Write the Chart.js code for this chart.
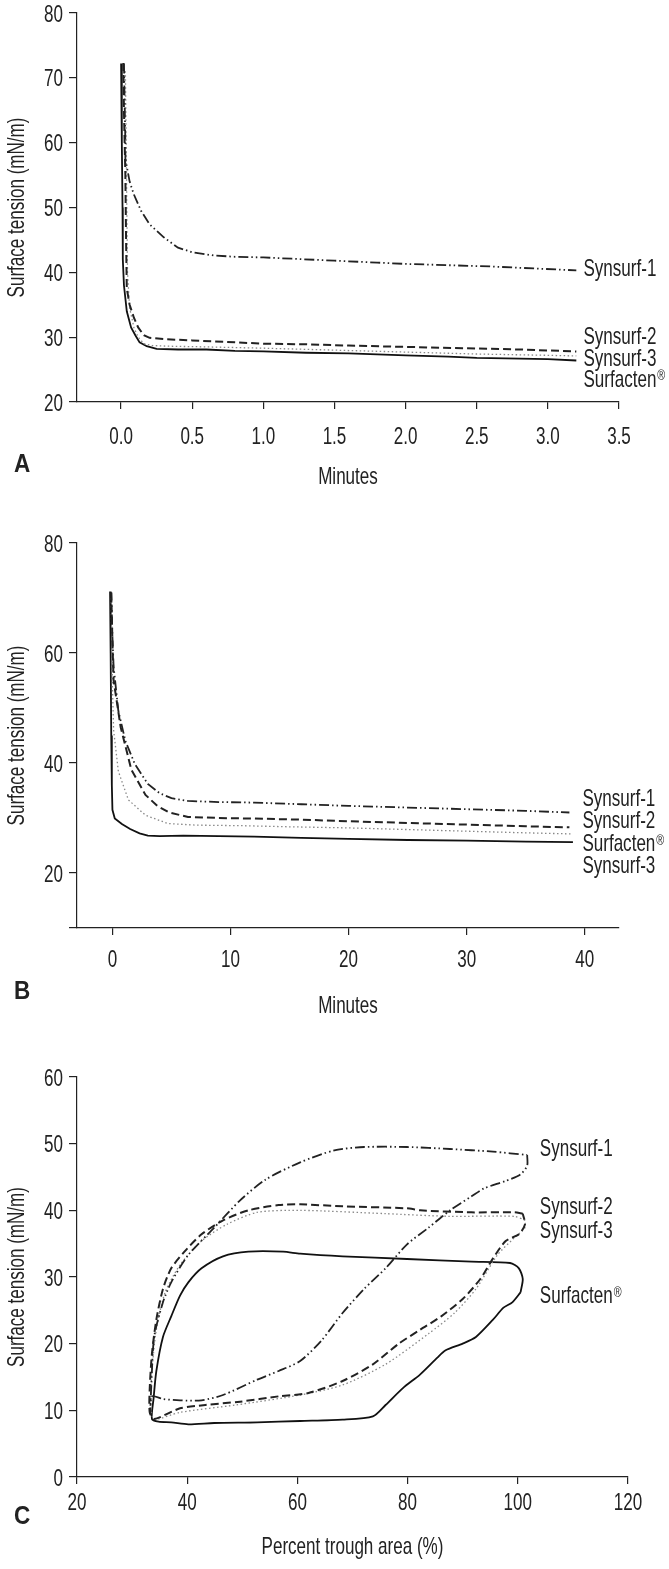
<!DOCTYPE html>
<html>
<head>
<meta charset="utf-8">
<script src="https://cdn.jsdelivr.net/npm/chart.js@4"></script>
<style>
  body { margin: 0; background: #fff; }
  canvas { position: absolute; left: 0; }
</style>
</head>
<body>
<canvas id="chartA" width="669" height="500" style="top:0px"></canvas>
<canvas id="chartB" width="669" height="530" style="top:500px"></canvas>
<canvas id="chartC" width="669" height="539" style="top:1030px"></canvas>
<script>
// ---- data: [x, surface tension] ----
// A: first 3 minutes
const aSynsurf1 = [[0.02,72.2],[0.025,66],[0.03,60],[0.03,57.5],[0.06,54],[0.09,52],[0.14,49.5],[0.2,47.4],[0.3,45.4],[0.4,43.8],[0.5,43.1],[0.65,42.6],[0.8,42.4],[1.0,42.3],[1.2,42.1],[1.5,41.8],[1.8,41.5],[2.0,41.3],[2.3,41.1],[2.6,40.9],[2.9,40.6],[3.2,40.3]];
const aSynsurf2 = [[0.016,72.3],[0.02,65],[0.03,55],[0.035,45],[0.04,37.5],[0.06,35],[0.09,33],[0.12,31.5],[0.16,30.3],[0.2,29.9],[0.3,29.7],[0.5,29.5],[0.8,29.2],[1.0,29.0],[1.3,28.9],[1.6,28.7],[2.0,28.5],[2.4,28.3],[2.8,28.1],[3.2,27.8]];
const aSynsurf3 = [[0.03,71],[0.035,62],[0.04,50],[0.045,40],[0.06,34.5],[0.09,31.5],[0.12,30],[0.16,29],[0.22,28.7],[0.35,28.6],[0.6,28.5],[1.0,28.3],[1.5,28.0],[2.0,27.7],[2.5,27.4],[3.0,27.2],[3.2,27.1]];
const aSurfacten = [[0.0,72.2],[0.005,60],[0.01,50],[0.012,42],[0.02,38],[0.04,34],[0.07,31.5],[0.1,30.3],[0.13,29.2],[0.18,28.6],[0.25,28.2],[0.4,28.1],[0.6,28.1],[0.8,27.9],[1.0,27.8],[1.3,27.6],[1.6,27.5],[2.0,27.2],[2.3,27.0],[2.5,26.8],[2.8,26.7],[3.0,26.6],[3.2,26.4]];

// B: 40 minutes
const bSynsurf1 = [[-0.1,71],[0,63],[0.1,57.5],[0.5,49.5],[1.1,44],[1.9,39.8],[3.0,36.2],[4.0,34.5],[5.0,33.6],[6.4,33.1],[9,32.9],[12,32.8],[16,32.5],[20,32.2],[25,31.9],[30,31.6],[35,31.3],[38.7,31.0]];
const bSynsurf2 = [[-0.1,71],[0,62],[0.1,55],[0.7,46.5],[1.6,38.8],[2.8,34.2],[3.8,32.2],[4.8,31.0],[6.4,30.2],[9,30.0],[12,29.9],[16,29.7],[20,29.4],[25,29.1],[30,28.8],[35,28.5],[38.7,28.3]];
const bSynsurf3 = [[-0.1,70],[0,54],[0.1,46],[0.5,38.5],[1.35,33.3],[2.8,30.5],[4.7,29.0],[7.1,28.7],[11,28.6],[15,28.4],[20,28.2],[25,27.9],[30,27.6],[35,27.3],[39,27.1]];
const bSurfacten = [[-0.2,71.2],[-0.15,60],[-0.1,45],[-0.05,36],[0,31.5],[0.2,29.9],[0.8,28.9],[1.5,28.0],[2.3,27.2],[3.0,26.8],[4.0,26.7],[6,26.8],[9,26.7],[12,26.6],[16,26.4],[20,26.2],[25,26.0],[30,25.9],[35,25.7],[39,25.6]];

// C: compression / expansion loops, [percent trough area, tension]
const cSynsurf1 = [[101.7,48.3],[101.7,46.7],[100.5,45.4],[97.8,44.4],[93.9,43.3],[91.6,42.1],[87.7,40],[83.8,37.4],[79.9,34.9],[76,31.3],[72.1,28.2],[68.2,24.6],[64.4,20.5],[60.5,17.4],[56.6,15.9],[52.7,14.6],[46.5,12.3],[42.6,11.5],[38.7,11.5],[35.6,11.7],[33.6,12.1],[33.3,9.6],[33.5,14],[34,21],[35.6,26.2],[37.1,29.2],[40.2,33.3],[44.9,37.4],[49.6,41.5],[54.2,44.6],[60.5,47.2],[66.7,49],[72.1,49.5],[79.9,49.5],[87.7,49.2],[95.5,48.8],[101.7,48.3]];
const cSynsurf2 = [[100.9,39.5],[99.4,39.7],[91.6,39.7],[82.3,40],[79.9,40.3],[68.2,40.6],[60.5,40.9],[56.6,40.8],[51.1,40],[46.5,38.5],[42.6,36.4],[39.5,33.8],[37.1,31.3],[35.6,28.2],[34.4,23.6],[33.6,18.5],[33.2,13.3],[33.2,9.7],[34,8.7],[38.7,10.3],[43.3,10.8],[49.6,11.3],[56.6,12.1],[62,12.6],[68.2,14.4],[73.7,16.9],[78.4,20],[82.3,22.1],[86.1,24.1],[90,26.7],[93.2,29.7],[95.5,32.8],[97.8,35.4],[100.2,36.4],[101.3,37.9],[100.9,39.5]];
const cSynsurf3 = [[101.3,38.5],[99.4,39.1],[87.7,39.1],[76,39.5],[60.5,40],[52.7,39.7],[47.2,37.9],[42.6,35.4],[38.7,31.8],[36,27.7],[34.4,22.1],[33.6,15.9],[33.4,10.8],[34,8.7],[38.7,9.7],[48.8,10.8],[60.5,12.3],[68.2,13.8],[76,16.9],[83.8,21.5],[88.5,24.6],[92.4,28.2],[96.3,33.3],[99.4,35.9],[101.3,37.4],[101.3,38.5]];
const cSurfacten = [[100.5,27.7],[99,26.2],[97.4,25.4],[95.5,23.6],[92.4,21],[90,20],[86.9,19],[85.4,17.9],[82.3,15.4],[79.1,13.3],[76,10.8],[73.7,9.1],[68.2,8.6],[60.5,8.4],[52.7,8.2],[44.9,8.1],[40.2,7.9],[37.1,8.2],[34.8,8.3],[33.6,8.7],[33.9,11.8],[34.4,15.9],[35.6,21],[37.1,24.1],[38.7,27.2],[40.2,29.2],[42.6,31.3],[46.5,33.1],[51.1,33.8],[57.4,33.8],[60.5,33.5],[68.2,33.1],[79.9,32.7],[91.6,32.3],[98.6,32.1],[100.2,31.3],[100.9,29.7],[100.5,27.7]];

// tick values
const aXTicks = [0, 0.5, 1.0, 1.5, 2.0, 2.5, 3.0, 3.5];
const aYTicks = [20, 30, 40, 50, 60, 70, 80];
const bXTicks = [0, 10, 20, 30, 40];
const bYTicks = [10, 20, 40, 60, 80];
const cXTicks = [20, 40, 60, 80, 100, 120];
const cYTicks = [0, 10, 20, 30, 40, 50, 60];

// ---- styling ----
const FONT = "'Liberation Sans', Arial, sans-serif";
const NARROW = 0.71;   // the original uses a condensed face
const INK = '#222';

const lineStyle = {
  'Synsurf-1': { borderColor: '#222', borderWidth: 1.8, borderDash: [10, 3, 1.5, 3, 1.5, 3] },
  'Synsurf-2': { borderColor: '#222', borderWidth: 2, borderDash: [8, 4] },
  'Synsurf-3': { borderColor: '#888', borderWidth: 1.3, borderDash: [1.5, 2.5] },
  'Surfacten': { borderColor: '#111', borderWidth: 1.8, borderDash: [] }
};

// condensed text: tick labels, axis titles, curve names, panel letter
function put(ctx, str, x, y, align, size, opt = {}) {
  const sx = opt.sx || NARROW;
  ctx.save();
  ctx.translate(x, y);
  if (opt.rotate) ctx.rotate(-Math.PI / 2);
  ctx.scale(sx, 1);
  ctx.font = (opt.bold ? 'bold ' : '') + size + 'px ' + FONT;
  ctx.textAlign = align;
  ctx.textBaseline = 'alphabetic';
  ctx.fillStyle = INK;
  ctx.fillText(str, 0, size * 0.358);
  const w = ctx.measureText(str).width * sx;
  ctx.restore();
  return w;
}

const figText = {
  id: 'figText',
  afterDraw(chart, args, o) {
    const { ctx, chartArea, scales: { x, y } } = chart;
    x.ticks.forEach(t => put(ctx, o.xFmt(t.value), x.getPixelForValue(t.value), chartArea.bottom + o.xGap, 'center', 24));
    y.ticks.forEach(t => {
      const s = o.yFmt(t.value);
      if (s !== '') put(ctx, s, 63, y.getPixelForValue(t.value), 'right', 24);
    });
    put(ctx, o.xTitle, (chartArea.left + chartArea.right) / 2, o.xTitleY, 'center', 24);
    put(ctx, 'Surface tension (mN/m)', 15, (chartArea.top + chartArea.bottom) / 2, 'center', 24, { rotate: true });
    o.items.forEach(it => {
      const px = x.getPixelForValue(it.x);
      const py = y.getPixelForValue(it.y);
      const reg = it.text.endsWith('®');
      const main = reg ? it.text.slice(0, -1) : it.text;
      const w = put(ctx, main, px, py, 'left', 24);
      if (reg) put(ctx, '®', px + w + 1, py - 3, 'left', 15);
    });
    put(ctx, o.letter, 14, o.letterY, 'left', 25, { bold: true, sx: 0.9 });
  }
};

function axis(o) {
  return {
    type: 'linear',
    min: o.min,
    max: o.max,
    border: { color: INK, width: 1.2 },
    grid: { drawOnChartArea: false, drawTicks: true, tickLength: o.tick, color: INK, lineWidth: 1.2 },
    ticks: { display: false },
    title: { display: false },
    afterBuildTicks: s => { s.ticks = o.values.map(v => ({ value: v })); },
    afterFit: o.fit
  };
}

function makePanel(id, p) {
  new Chart(document.getElementById(id), {
    type: 'scatter',
    data: {
      datasets: p.series.map(([name, pts]) => Object.assign({
        label: name,
        data: pts.map(([x, y]) => ({ x, y })),
        showLine: true,
        pointRadius: 0,
        fill: false,
        tension: p.tension
      }, lineStyle[name]))
    },
    options: {
      responsive: false,
      animation: false,
      events: [],
      layout: { padding: p.padding },
      plugins: {
        legend: { display: false },
        tooltip: { enabled: false },
        figText: {
          items: p.labels, letter: p.letter, letterY: p.letterY,
          xGap: p.xGap, xTitle: p.xTitle, xTitleY: p.xTitleY,
          xFmt: p.xFmt || (v => String(v)), yFmt: p.yFmt || (v => String(v))
        }
      },
      scales: {
        x: axis(Object.assign({ tick: 7, fit: s => { s.height = p.xHeight; s.paddingLeft = 0; s.paddingRight = 0; } }, p.x)),
        y: axis(Object.assign({ tick: 8, fit: s => { s.width = 77; s.paddingTop = 0; s.paddingBottom = 0; } }, p.y))
      }
    },
    plugins: [figText]
  });
}

makePanel('chartA', {
  series: [['Synsurf-1', aSynsurf1], ['Synsurf-2', aSynsurf2], ['Synsurf-3', aSynsurf3], ['Surfacten', aSurfacten]],
  tension: 0,
  padding: { left: 0, top: 13, right: 50, bottom: 13 },
  xHeight: 85,
  x: { min: -0.31, max: 3.5, values: aXTicks },
  y: { min: 20, max: 80, values: aYTicks },
  xFmt: v => v.toFixed(1),
  xGap: 33, xTitle: 'Minutes', xTitleY: 475,
  labels: [
    { text: 'Synsurf-1', x: 3.25, y: 40.8 },
    { text: 'Synsurf-2', x: 3.25, y: 30.3 },
    { text: 'Synsurf-3', x: 3.25, y: 26.9 },
    { text: 'Surfacten®', x: 3.25, y: 23.7 }
  ],
  letter: 'A', letterY: 463
});

makePanel('chartB', {
  series: [['Synsurf-1', bSynsurf1], ['Synsurf-2', bSynsurf2], ['Synsurf-3', bSynsurf3], ['Surfacten', bSurfacten]],
  tension: 0,
  padding: { left: 0, top: 43, right: 50, bottom: 16 },
  xHeight: 86,
  x: { min: -3, max: 42.9, values: bXTicks },
  y: { min: 10, max: 80, values: bYTicks },
  yFmt: v => (v === 10 ? '' : String(v)),
  xGap: 30, xTitle: 'Minutes', xTitleY: 504,
  labels: [
    { text: 'Synsurf-1', x: 39.8, y: 33.8 },
    { text: 'Synsurf-2', x: 39.8, y: 29.7 },
    { text: 'Surfacten®', x: 39.8, y: 25.6 },
    { text: 'Synsurf-3', x: 39.8, y: 21.5 }
  ],
  letter: 'B', letterY: 490
});

makePanel('chartC', {
  series: [['Synsurf-1', cSynsurf1], ['Synsurf-2', cSynsurf2], ['Synsurf-3', cSynsurf3], ['Surfacten', cSurfacten]],
  tension: 0.25,
  padding: { left: 0, top: 47, right: 41, bottom: 8 },
  xHeight: 84,
  x: { min: 20, max: 120, values: cXTicks },
  y: { min: 0, max: 60, values: cYTicks },
  xGap: 24, xTitle: 'Percent trough area (%)', xTitleY: 515,
  labels: [
    { text: 'Synsurf-1', x: 104, y: 49.5 },
    { text: 'Synsurf-2', x: 104, y: 40.8 },
    { text: 'Synsurf-3', x: 104, y: 37.2 },
    { text: 'Surfacten®', x: 104, y: 27.4 }
  ],
  letter: 'C', letterY: 485
});
</script>
</body>
</html>
